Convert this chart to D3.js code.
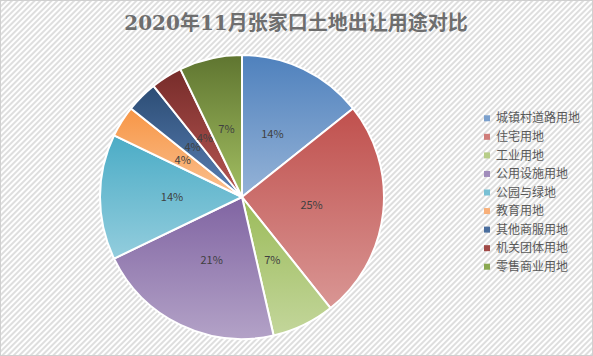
<!DOCTYPE html>
<html><head><meta charset="utf-8">
<script src="https://cdn.jsdelivr.net/npm/d3@7"></script>
<style>html,body{margin:0;padding:0;background:#fff;}svg{display:block;}</style>
</head><body>
<svg id="chart" width="593" height="356"></svg>
<script>
const title = "2020年11月张家口土地出让用途对比";
const categories = ["城镇村道路用地","住宅用地","工业用地","公用设施用地","公园与绿地","教育用地","其他商服用地","机关团体用地","零售商业用地"];
const values = [4, 7, 2, 6, 4, 1, 1, 1, 2];
const topColors = ["#4f81bd","#c0504d","#9bbb59","#8064a2","#4bacc6","#f79646","#2c4d75","#772c2a","#5f7530"];
const bottomColors = ["#95b3d7","#d99694","#c3d69b","#b3a2c7","#93cddd","#fac090","#5a7fb3","#b65753","#a3bf62"];
const legendColors = ["#7ba0cd","#d07e7b","#b7cd88","#a08cbb","#78c0d4","#f8b07a","#4a6e9e","#a14a47","#8aa851"];

const W = 593, H = 356;
const svg = d3.select("#chart");
const defs = svg.append("defs");

const pat = defs.append("pattern").attr("id","stripes").attr("patternUnits","userSpaceOnUse")
  .attr("width",4).attr("height",4).attr("patternTransform","rotate(45)");
pat.append("rect").attr("width",4).attr("height",4).attr("fill","#ffffff");
pat.append("rect").attr("width",2).attr("height",4).attr("fill","#dedede");

svg.append("rect").attr("x",0).attr("y",0).attr("width",W).attr("height",H).attr("fill","url(#stripes)");
svg.append("rect").attr("x",0.5).attr("y",0.5).attr("width",W-1).attr("height",H-1)
  .attr("fill","none").attr("stroke","#d0d0d0");

svg.append("text").attr("x",296).attr("y",30).attr("text-anchor","middle")
  .attr("font-family","'DejaVu Serif','Noto Sans CJK SC',serif").attr("font-weight","bold")
  .attr("font-size",20).attr("fill","#6e6e6e").text(title);

categories.forEach((c,i)=>{
  const g = defs.append("linearGradient").attr("id","g"+i).attr("x1",0).attr("y1",0).attr("x2",0).attr("y2",1);
  g.append("stop").attr("offset","0%").attr("stop-color",topColors[i]);
  g.append("stop").attr("offset","100%").attr("stop-color",bottomColors[i]);
});

const cx = 242, cy = 197, R = 142;
const total = d3.sum(values);
const pie = d3.pie().sort(null).value(d=>d)(values);
const arc = d3.arc().innerRadius(0).outerRadius(R);
const labelArc = d3.arc().innerRadius(70*2 - R + 0).outerRadius(R).centroid;
const lab = d3.arc().innerRadius(70).outerRadius(70);
const gp = svg.append("g").attr("transform",`translate(${cx},${cy})`);
gp.selectAll("path").data(pie).join("path")
  .attr("d",arc).attr("fill",(d,i)=>`url(#g${i})`)
  .attr("stroke","#ffffff").attr("stroke-width",2).attr("stroke-linejoin","round");
gp.selectAll("text").data(pie).join("text")
  .attr("transform",d=>`translate(${lab.centroid(d)})`)
  .attr("text-anchor","middle").attr("dy","0.35em")
  .attr("font-family","'Noto Sans CJK SC','DejaVu Sans',sans-serif").attr("font-size",11)
  .attr("fill","#404040")
  .text(d=>Math.round(d.data/total*100)+"%");

const ly = d3.scaleBand().domain(categories).range([109, 276]);
const lg = svg.append("g");
const items = lg.selectAll("g").data(categories).join("g")
  .attr("transform",d=>`translate(0,${ly(d)+ly.bandwidth()/2})`);
items.append("rect").attr("x",484).attr("y",-3).attr("width",6).attr("height",6)
  .attr("fill",(d,i)=>legendColors[i]);
items.append("text").attr("x",496).attr("dy","0.35em")
  .attr("font-family","'Noto Sans CJK SC',sans-serif").attr("font-size",12)
  .attr("fill","#595959").text(d=>d);
</script>
</body></html>
